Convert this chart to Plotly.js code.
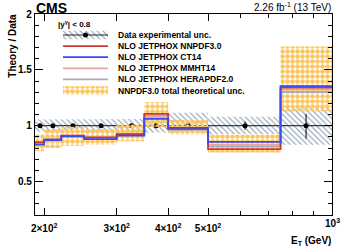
<!DOCTYPE html>
<html><head><meta charset="utf-8">
<script src="https://cdn.plot.ly/plotly-3.0.1.min.js"></script>
<style>html,body{margin:0;padding:0;background:#fff}#chart{width:349px;height:247px}</style>
</head><body><div id="chart"></div>
<script>
// ---- data ----
const binEdges   = [190, 200, 220, 250, 300, 350, 400, 500, 750, 1000];
const dataX      = [195.5, 210, 235, 275, 326, 374, 447, 615, 865];
const dataY      = [1, 1, 1, 1, 1, 1, 1, 1, 1];
const dataErrUp  = [0.005, 0.005, 0.006, 0.007, 0.01, 0.012, 0.02, 0.036, 0.105];
const dataErrDn  = [0.005, 0.005, 0.006, 0.007, 0.01, 0.012, 0.02, 0.036, 0.115];
const expUncHi   = [1.055, 1.055, 1.055, 1.055, 1.06, 1.07, 1.115, 1.08, 1.16];
const expUncLo   = [0.945, 0.945, 0.945, 0.945, 0.94, 0.935, 0.935, 0.925, 0.83];
const nnpdf30    = [0.85, 0.875, 0.91, 0.895, 0.925, 1.105, 0.97, 0.79, 1.34];
const ct14       = [0.83, 0.87, 0.905, 0.88, 0.91, 1.06, 0.98, 0.855, 1.355];
const mmht14     = [0.845, 0.875, 0.91, 0.89, 0.92, 1.08, 0.975, 0.83, 1.325];
const herapdf20  = [0.855, 0.88, 0.905, 0.89, 0.925, 1.09, 0.965, 0.815, 1.30];
const theoUncHi  = [0.92, 0.97, 0.99, 0.97, 1.01, 1.21, 1.05, 0.92, 1.71];
const theoUncLo  = [0.77, 0.80, 0.82, 0.83, 0.86, 0.99, 0.92, 0.76, 1.13];
const xTickVals  = [200, 300, 400, 500, 1000];
const xTickText  = ['2×10<sup>2</sup>', '3×10<sup>2</sup>', '4×10<sup>2</sup>', '5×10<sup>2</sup>', '10<sup>3</sup>'];
const xMinorVals = [600, 700, 800, 900];
const legendLabels = ['Data experimental unc.', 'NLO JETPHOX NNPDF3.0', 'NLO JETPHOX CT14',
                      'NLO JETPHOX MMHT14', 'NLO JETPHOX HERAPDF2.0', 'NNPDF3.0 total theoretical unc.'];

// ---- styles ----
const FONT = 'Liberation Sans, Arial, Helvetica, sans-serif';
const cRed = '#c93a36', cBlue = '#3a4af2', cPink = '#e3a5a2', cGray = '#a6aab6';
const hatchPattern = {shape: '\\', fgcolor: '#8298b0', bgcolor: 'rgba(0,0,0,0)', size: 4, solidity: 0.25};
const orangePattern = {shape: '.', fgcolor: '#fdc55e', bgcolor: 'rgba(0,0,0,0)', size: 5, solidity: 0.66};

function stepPolygon(edges, lo, hi) {
  const xs = [], ys = [];
  for (let i = 0; i < hi.length; i++) { xs.push(edges[i], edges[i + 1]); ys.push(hi[i], hi[i]); }
  for (let i = lo.length - 1; i >= 0; i--) { xs.push(edges[i + 1], edges[i]); ys.push(lo[i], lo[i]); }
  xs.push(xs[0]); ys.push(ys[0]);
  return {xs, ys};
}
function stepLine(vals, color, name) {
  return {x: binEdges, y: vals.concat([vals[vals.length - 1]]), type: 'scatter', mode: 'lines',
          line: {shape: 'hv', color: color, width: 1.8}, name: name, showlegend: false, hoverinfo: 'skip'};
}

const expPoly = stepPolygon(binEdges, expUncLo, expUncHi);
const theoPoly = stepPolygon(binEdges, theoUncLo, theoUncHi);

const traces = [
  {x: expPoly.xs, y: expPoly.ys, type: 'scatter', mode: 'lines', fill: 'toself',
   line: {width: 0, color: 'rgba(0,0,0,0)'}, fillpattern: hatchPattern, fillcolor: 'rgba(0,0,0,0)', showlegend: false, hoverinfo: 'skip'},
  {x: [binEdges[0], binEdges[binEdges.length - 1]], y: [1, 1], type: 'scatter', mode: 'lines',
   line: {color: '#3a3a3a', width: 1.2}, showlegend: false, hoverinfo: 'skip'},
  {x: dataX, y: dataY, type: 'scatter', mode: 'markers', marker: {color: 'black', size: 5},
   error_y: {type: 'data', symmetric: false, array: dataErrUp, arrayminus: dataErrDn, color: 'black', thickness: 1, width: 0},
   showlegend: false},
  {x: theoPoly.xs, y: theoPoly.ys, type: 'scatter', mode: 'lines', fill: 'toself',
   line: {width: 0, color: 'rgba(0,0,0,0)'}, fillpattern: orangePattern, fillcolor: 'rgba(0,0,0,0)', showlegend: false, hoverinfo: 'skip'},
  stepLine(herapdf20, cGray, legendLabels[4]),
  stepLine(mmht14, cPink, legendLabels[3]),
  stepLine(nnpdf30, cRed, legendLabels[1]),
  stepLine(ct14, cBlue, legendLabels[2])
];

// ---- hand-made legend on an overlay axis (pixel-like coordinates) ----
const legRow0 = 35, legStep = 11.1, legX0 = 63, legX1 = 108, legTextX = 117, legHalf = 4.2;
const rowY = i => legRow0 + i * legStep;
function legBox(i, pattern) {
  const y0 = rowY(i) - legHalf, y1 = rowY(i) + legHalf;
  return {x: [legX0, legX1, legX1, legX0, legX0], y: [y0, y0, y1, y1, y0], xaxis: 'x2', yaxis: 'y2',
          type: 'scatter', mode: 'lines', fill: 'toself', line: {width: 0, color: 'rgba(0,0,0,0)'},
          fillpattern: pattern, fillcolor: 'rgba(0,0,0,0)', showlegend: false, hoverinfo: 'skip'};
}
function legLine(i, color, width) {
  return {x: [legX0, legX1], y: [rowY(i), rowY(i)], xaxis: 'x2', yaxis: 'y2', type: 'scatter', mode: 'lines',
          line: {color: color, width: width}, showlegend: false, hoverinfo: 'skip'};
}
traces.push(legBox(0, hatchPattern));
traces.push(legLine(0, '#222', 1.2));
traces.push({x: [(legX0 + legX1) / 2], y: [rowY(0)], xaxis: 'x2', yaxis: 'y2', type: 'scatter', mode: 'markers',
             marker: {color: 'black', size: 5}, showlegend: false, hoverinfo: 'skip'});
traces.push(legLine(1, cRed, 1.8));
traces.push(legLine(2, cBlue, 1.8));
traces.push(legLine(3, cPink, 1.8));
traces.push(legLine(4, cGray, 1.8));
traces.push(legBox(5, orangePattern));

const annotations = legendLabels.map((t, i) => ({
  text: t, x: legTextX, y: rowY(i), xref: 'x2', yref: 'y2', xanchor: 'left', yanchor: 'middle',
  showarrow: false, font: {family: FONT, size: 8.5, color: 'black', weight: 'bold'}, borderpad: 0
}));
annotations.push({text: '|y<sup>γ</sup>| < 0.8', x: 57, y: 24, xref: 'x2', yref: 'y2', xanchor: 'left', yanchor: 'middle',
  showarrow: false, font: {family: FONT, size: 8, color: 'black', weight: 'bold'}, borderpad: 0});
annotations.push({text: 'CMS', x: 0, y: 1, xref: 'paper', yref: 'paper', xanchor: 'left', yanchor: 'bottom', yshift: -3,
  showarrow: false, font: {family: FONT, size: 14, color: 'black', weight: 'bold'}, borderpad: 0});
annotations.push({text: '2.26 fb<sup>-1</sup> (13 TeV)', x: 1, y: 1, xref: 'paper', yref: 'paper', xanchor: 'right', yanchor: 'bottom',
  showarrow: false, font: {family: FONT, size: 10, color: 'black'}, borderpad: 0});
annotations.push({text: 'Theory / Data', x: -0.075, y: 1.005, xref: 'paper', yref: 'paper', xanchor: 'center', yanchor: 'top',
  textangle: -90, showarrow: false, font: {family: FONT, size: 10, color: 'black', weight: 'bold'}, borderpad: 0});
annotations.push({text: 'E<sub>T</sub> (GeV)', x: 1, y: -0.095, xref: 'paper', yref: 'paper', xanchor: 'right', yanchor: 'top',
  showarrow: false, font: {family: FONT, size: 10, color: 'black', weight: 'bold'}, borderpad: 0});
// the last decade label sits higher, as in the original
annotations.push({text: xTickText[4], x: Math.log10(xTickVals[4]), y: -0.005, xref: 'x', yref: 'paper', xanchor: 'center', yanchor: 'top',
  showarrow: false, font: {family: FONT, size: 10, color: 'black', weight: 'bold'}, borderpad: 0});

const layout = {
  width: 349, height: 247,
  margin: {l: 35, r: 17, t: 14, b: 32},
  paper_bgcolor: 'white', plot_bgcolor: 'white',
  showlegend: false,
  font: {family: FONT, color: 'black'},
  xaxis: {type: 'log', range: [Math.log10(190), 3], tickmode: 'array', tickvals: xTickVals,
          ticktext: xTickText.slice(0, 4).concat(['']),
          ticks: 'inside', ticklen: 7, tickwidth: 1, tickcolor: 'black', mirror: 'allticks', ticklabelstandoff: 4,
          showline: true, linecolor: 'black', linewidth: 1.2, showgrid: false, zeroline: false,
          tickfont: {family: FONT, size: 10, color: 'black', weight: 'bold'},
          minor: {tickmode: 'array', tickvals: xMinorVals, ticks: 'inside', ticklen: 4, tickcolor: 'black', showgrid: false}},
  yaxis: {range: [0.2, 2.0], tickmode: 'linear', tick0: 0, dtick: 0.5,
          ticks: 'inside', ticklen: 8, tickwidth: 1, tickcolor: 'black', mirror: 'allticks',
          showline: true, linecolor: 'black', linewidth: 1.2, showgrid: false, zeroline: false,
          tickfont: {family: FONT, size: 10, color: 'black', weight: 'bold'},
          minor: {tickmode: 'linear', tick0: 0, dtick: 0.1, ticks: 'inside', ticklen: 4, tickcolor: 'black', showgrid: false}},
  xaxis2: {overlaying: 'x', anchor: 'y2', range: [35, 332], visible: false, showgrid: false, zeroline: false},
  yaxis2: {overlaying: 'y', anchor: 'x2', range: [215, 14], visible: false, showgrid: false, zeroline: false},
  annotations: annotations
};

Plotly.newPlot('chart', traces, layout, {staticPlot: true, displayModeBar: false});
</script></body></html>
